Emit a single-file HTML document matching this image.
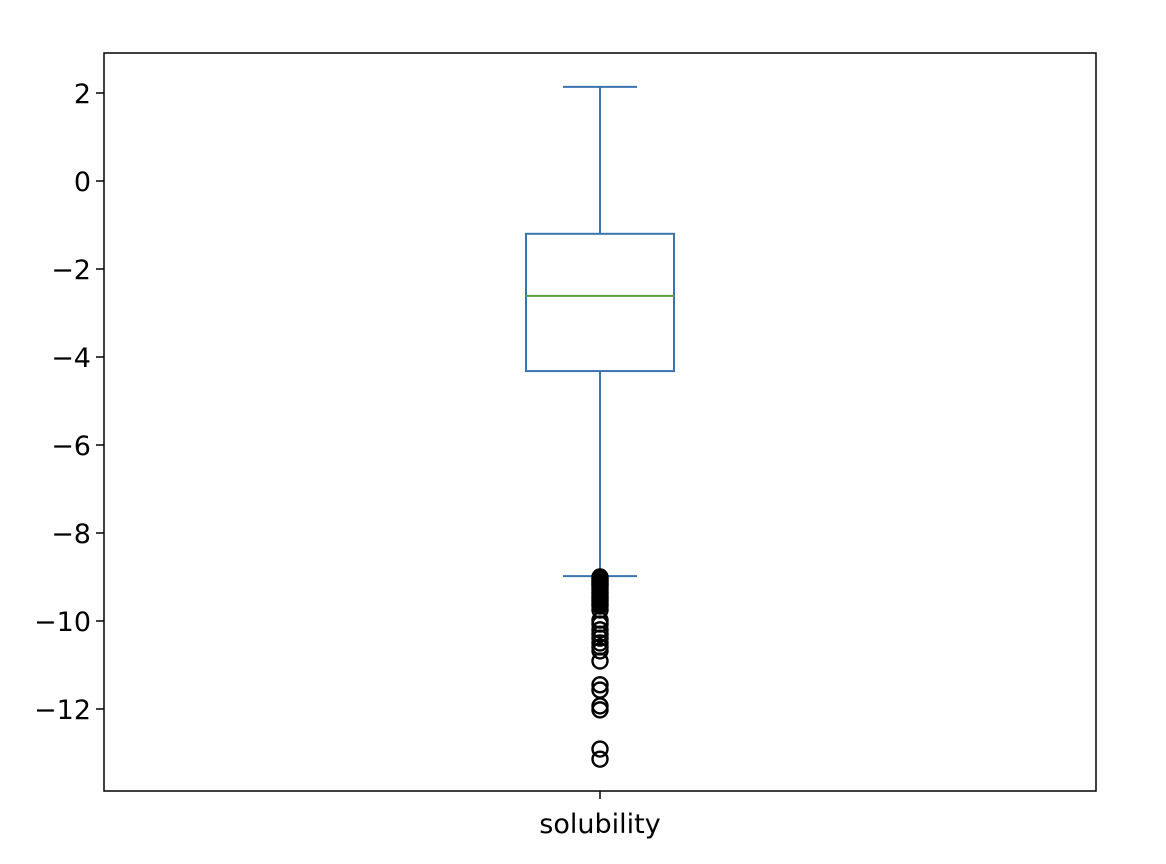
<!DOCTYPE html>
<html><head><meta charset="utf-8"><style>body{margin:0;background:#fff}svg{display:block}text{font-family:"DejaVu Sans","Liberation Sans",sans-serif;font-size:27px;fill:#000}</style></head>
<body>
<svg id="chart" width="1166" height="864" xmlns="http://www.w3.org/2000/svg"></svg>
<script>
const categories = ["solubility"];
const whiskerLow = [-8.98];
const q1 = [-4.32];
const median = [-2.61];
const q3 = [-1.20];
const whiskerHigh = [2.14];
const outliers = [-9.0,-9.04,-9.07,-9.1,-9.14,-9.17,-9.2,-9.25,-9.3,-9.35,-9.39,-9.44,-9.48,-9.52,-9.57,-9.62,-9.66,-9.75,-9.98,-10.07,-10.2,-10.3,-10.39,-10.5,-10.59,-10.68,-10.91,-11.45,-11.57,-11.93,-12.02,-12.91,-13.14];
const yTicks = [2,0,-2,-4,-6,-8,-10,-12];

const NS="http://www.w3.org/2000/svg", svg=document.getElementById('chart');
const L=104,R=1096,T=53,B=791;
const yMin=-13.864,yMax=2.909;
const y=v=>B-(v-yMin)/(yMax-yMin)*(B-T);
const x=i=>L+(i+0.5)*(R-L)/categories.length;
function mk(tag,attrs,name){const e=document.createElementNS(NS,tag);for(const k in attrs)e.setAttribute(k,attrs[k]);


svg.appendChild(e);return e;}
const blue="#3a75af";
categories.forEach((c,i)=>{
  const cx=x(i),hw=74,cw=37;
  mk('line',{x1:cx,x2:cx,y1:y(q3[i]),y2:y(whiskerHigh[i]),stroke:blue,'stroke-width':2},'upper-whisker');
  mk('line',{x1:cx,x2:cx,y1:y(q1[i]),y2:y(whiskerLow[i]),stroke:blue,'stroke-width':2},'lower-whisker');
  mk('line',{x1:cx-cw,x2:cx+cw,y1:y(whiskerHigh[i]),y2:y(whiskerHigh[i]),stroke:blue,'stroke-width':2},'upper-cap');
  mk('line',{x1:cx-cw,x2:cx+cw,y1:y(whiskerLow[i]),y2:y(whiskerLow[i]),stroke:blue,'stroke-width':2},'lower-cap');
  mk('rect',{x:cx-hw,y:y(q3[i]),width:2*hw,height:y(q1[i])-y(q3[i]),fill:'none',stroke:blue,'stroke-width':2},'box');
  mk('line',{x1:cx-hw,x2:cx+hw,y1:y(median[i]),y2:y(median[i]),stroke:'#5a9e3e','stroke-width':2},'median-line');
  outliers.forEach(v=>mk('circle',{cx:cx,cy:y(v),r:7.5,fill:'none',stroke:'#000','stroke-width':2.4},'outlier-point'));
  mk('line',{x1:cx,x2:cx,y1:B,y2:B+8,stroke:'#000','stroke-width':1.5},'x-tick');
  const t=mk('text',{x:cx,y:B+42,'text-anchor':'middle'},'x-tick-label');t.textContent=c;
});
yTicks.forEach(v=>{
  mk('line',{x1:L-8,x2:L,y1:y(v),y2:y(v),stroke:'#000','stroke-width':1.5},'y-tick');
  const t=mk('text',{x:L-13,y:y(v)+10,'text-anchor':'end'},'y-tick-label');t.textContent=(v<0?'\u2212':'')+Math.abs(v);
});
mk('rect',{x:L,y:T,width:R-L,height:B-T,fill:'none',stroke:'#000','stroke-width':1.5},'plot-frame');
</script>
</body></html>
